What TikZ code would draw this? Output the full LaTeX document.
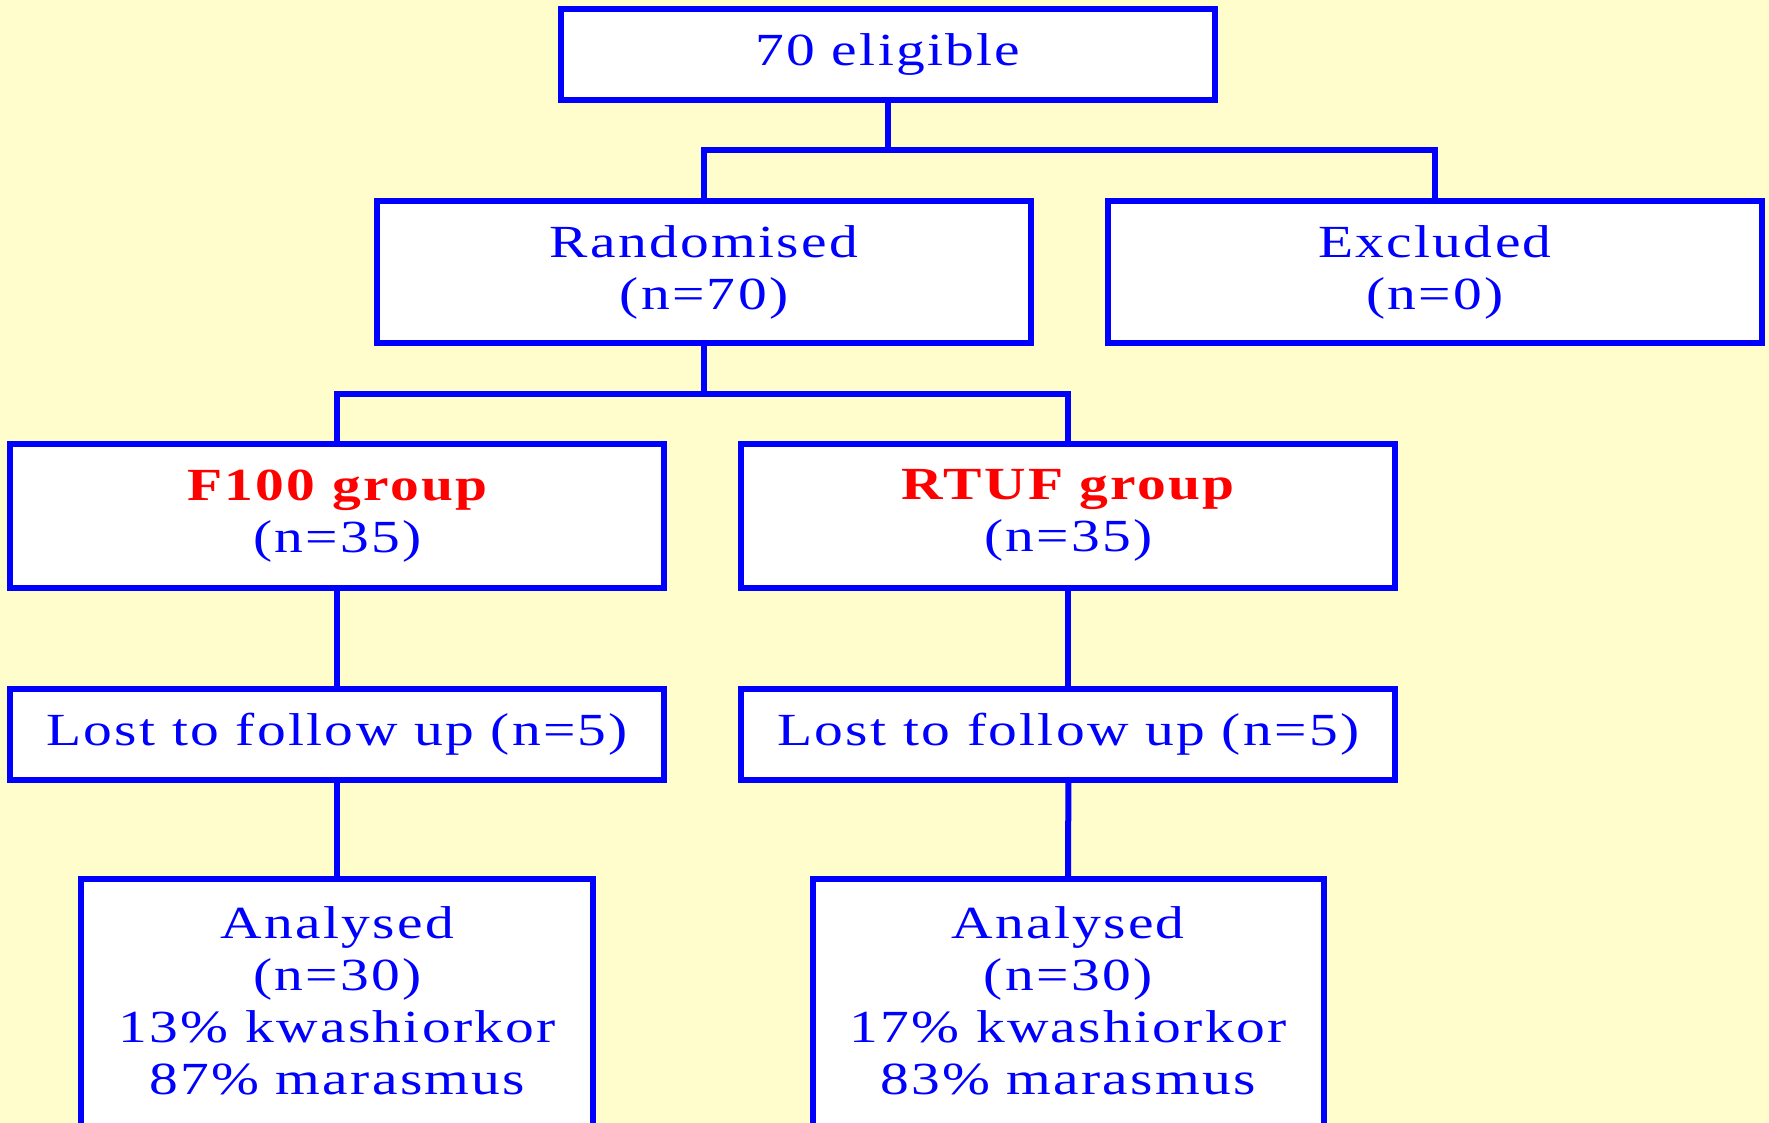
\documentclass[tikz,border=0pt]{standalone}
\usepackage{fontspec}
\setmainfont{Liberation Serif}[FakeStretch=1.25,LetterSpace=5]
\definecolor{bg}{RGB}{255,253,204}
\definecolor{lineblue}{RGB}{0,0,255}
\definecolor{txtred}{RGB}{255,0,0}
\begin{document}
\begin{tikzpicture}[x=1pt,y=-1pt,
  box/.style={draw=lineblue,line width=6pt,fill=white,text=lineblue,align=center,
    font=\fontsize{46}{52}\selectfont,inner sep=0pt},
  txt/.style={text=lineblue,align=center,font=\fontsize{46}{52}\selectfont,inner sep=0pt},
  conn/.style={draw=lineblue,line width=6pt}]
\fill[bg] (0,0) rectangle (1769,1123);
\useasboundingbox (0,0) rectangle (1769,1123);
\begin{scope}
\clip (0,0) rectangle (1769,1123);
\node[box,minimum width=654,minimum height=91] (elig) at (888,54.7) {70 eligible};
\node[box,minimum width=654,minimum height=142] (rand) at (704,272) {Randomised\\(n=70)};
\node[box,minimum width=654,minimum height=142] (excl) at (1435,272) {Excluded\\(n=0)};
\node[box,minimum width=654,minimum height=144] (f100) at (337.3,515.6) {{\color{txtred}\bfseries F100 group}\\(n=35)};
\node[box,minimum width=654,minimum height=144] (rtuf) at (1068.4,515.6) {{\color{txtred}\bfseries RTUF group}\\(n=35)};
\node[box,minimum width=654,minimum height=91] (lost1) at (337.3,734) {Lost to follow up (n=5)};
\node[box,minimum width=654,minimum height=91] (lost2) at (1068.4,734) {Lost to follow up (n=5)};
\node[box,minimum width=512,minimum height=280] (an1) at (337.3,1019) {};
\node[box,minimum width=511,minimum height=280] (an2) at (1068,1019) {};
\node[txt] (an1t) at (337.3,1001) {Analysed\\(n=30)\\13\% kwashiorkor\\87\% marasmus};
\node[txt] (an2t) at (1068,1001) {Analysed\\(n=30)\\17\% kwashiorkor\\83\% marasmus};
\coordinate (j1) at (0,150);
\coordinate (j2) at (0,393.7);
\draw[conn] (elig.south) -- (elig.south |- j1);
\draw[conn] (rand.north) |- (j1 -| elig.south) -| (excl.north);
\draw[conn] (rand.south) -- (rand.south |- j2);
\draw[conn] (f100.north) |- (j2 -| rand.south) -| (rtuf.north);
\draw[conn] (f100.south) -- (lost1.north);
\draw[conn] (lost1.south) -- (an1.north);
\draw[conn] (rtuf.south) -- (lost2.north);
\draw[conn] (lost2.south) -- (an2.north);
\end{scope}
\end{tikzpicture}
\end{document}
